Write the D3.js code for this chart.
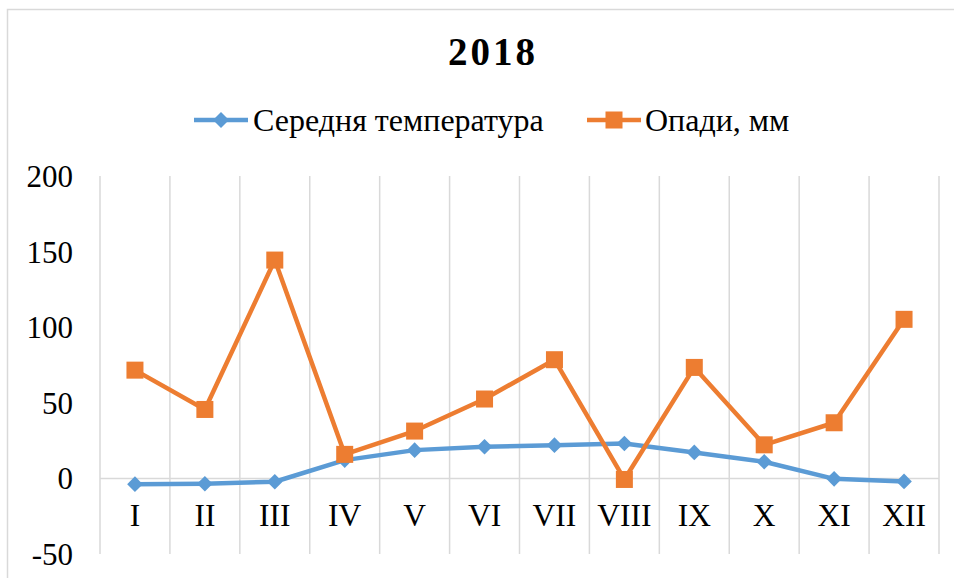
<!DOCTYPE html>
<html>
<head>
<meta charset="utf-8">
<script src="https://cdn.jsdelivr.net/npm/d3@7"></script>
<style>
  html, body { margin: 0; padding: 0; background: #fff; }
  svg { display: block; }
  text { font-family: "Liberation Serif", "Times New Roman", serif; fill: #000; }
</style>
</head>
<body>
<svg id="chart" width="954" height="578"></svg>
<script>
// Monthly climate data for 2018
const months = ["I", "II", "III", "IV", "V", "VI", "VII", "VIII", "IX", "X", "XI", "XII"];
const temperature = [-3.8, -3.5, -2.2, 12.1, 18.7, 20.9, 22.0, 23.1, 17.2, 11.0, -0.3, -2.0];
const precipitation = [71.6, 45.6, 144.4, 15.9, 31.3, 52.5, 78.5, -0.7, 73.4, 22.2, 36.8, 105.2];
const yTicks = [-50, 0, 50, 100, 150, 200];
const seriesNames = ["Середня температура", "Опади, мм"];
const titleText = "2018";

const blue = "#5b9bd5", orange = "#ed7d31", grid = "#d9d9d9";
const svg = d3.select("#chart");

// chart area border
svg.append("path")
  .attr("d", "M7.5,578 L7.5,9.5 L954,9.5")
  .attr("fill", "none").attr("stroke", grid).attr("stroke-width", 1.5);

const x = d3.scaleBand().domain(months).range([100, 939]);
const y = d3.scaleLinear().domain([-50, 200]).range([554, 176]);

// vertical gridlines at category boundaries
const bounds = months.map(m => x(m)).concat([x.range()[1]]);
svg.append("g").selectAll("line").data(bounds).join("line")
  .attr("x1", d => d).attr("x2", d => d)
  .attr("y1", y(200)).attr("y2", y(-50))
  .attr("stroke", grid).attr("stroke-width", 1.5);

// horizontal axis at zero
svg.append("line")
  .attr("x1", x.range()[0]).attr("x2", x.range()[1])
  .attr("y1", y(0)).attr("y2", y(0))
  .attr("stroke", grid).attr("stroke-width", 1.5);

// value axis labels (plain hyphen for negatives)
const yAxis = d3.axisLeft(y).tickValues(yTicks).tickSize(0).tickPadding(0).tickFormat(d => String(d));
const gy = svg.append("g").attr("transform", "translate(73,0)").call(yAxis);
gy.select(".domain").remove();
gy.selectAll("text")
  .style("font-family", "'Liberation Serif', 'Times New Roman', serif")
  .style("font-size", "31px").attr("fill", "#000").attr("dy", "0.34em");

// month labels below the zero line
const xAxis = d3.axisBottom(x).tickSize(0).tickPadding(0);
const gx = svg.append("g").attr("transform", `translate(0,${y(0)})`).call(xAxis);
gx.select(".domain").remove();
gx.selectAll("text")
  .style("font-family", "'Liberation Serif', 'Times New Roman', serif")
  .style("font-size", "31.5px").attr("fill", "#000").attr("y", 48).attr("dy", 0);

const cx = m => x(m) + x.bandwidth() / 2;
const line = d3.line().x((d, i) => cx(months[i])).y(d => y(d));

// temperature series
svg.append("path").datum(temperature)
  .attr("d", line).attr("fill", "none").attr("stroke", blue)
  .attr("stroke-width", 4.5).attr("stroke-linejoin", "round").attr("stroke-linecap", "round");
const diamond = r => `M0,${-r} L${r},0 L0,${r} L${-r},0 Z`;
svg.append("g").selectAll("path").data(temperature).join("path")
  .attr("transform", (d, i) => `translate(${cx(months[i])},${y(d)})`)
  .attr("d", diamond(7.8)).attr("fill", blue);

// precipitation series
svg.append("path").datum(precipitation)
  .attr("d", line).attr("fill", "none").attr("stroke", orange)
  .attr("stroke-width", 4.5).attr("stroke-linejoin", "round").attr("stroke-linecap", "round");
svg.append("g").selectAll("rect").data(precipitation).join("rect")
  .attr("x", (d, i) => cx(months[i]) - 8.5).attr("y", d => y(d) - 8.5)
  .attr("width", 17).attr("height", 17).attr("fill", orange);

// title
svg.append("text").attr("x", 493).attr("y", 65).attr("text-anchor", "middle")
  .style("font-size", "39px").style("font-weight", "bold").style("letter-spacing", "3px")
  .text(titleText);

// legend
const lg = svg.append("g");
lg.append("line").attr("x1", 194).attr("x2", 248).attr("y1", 120).attr("y2", 120)
  .attr("stroke", blue).attr("stroke-width", 4.5);
lg.append("path").attr("transform", "translate(221,120)").attr("d", diamond(8)).attr("fill", blue);
lg.append("text").attr("x", 253).attr("y", 131).style("font-size", "32px").text(seriesNames[0]);

lg.append("line").attr("x1", 587).attr("x2", 641).attr("y1", 120).attr("y2", 120)
  .attr("stroke", orange).attr("stroke-width", 4.5);
lg.append("rect").attr("x", 614 - 8.5).attr("y", 120 - 8.5).attr("width", 17).attr("height", 17).attr("fill", orange);
lg.append("text").attr("x", 645).attr("y", 131).style("font-size", "32px").text(seriesNames[1]);
</script>
</body>
</html>
